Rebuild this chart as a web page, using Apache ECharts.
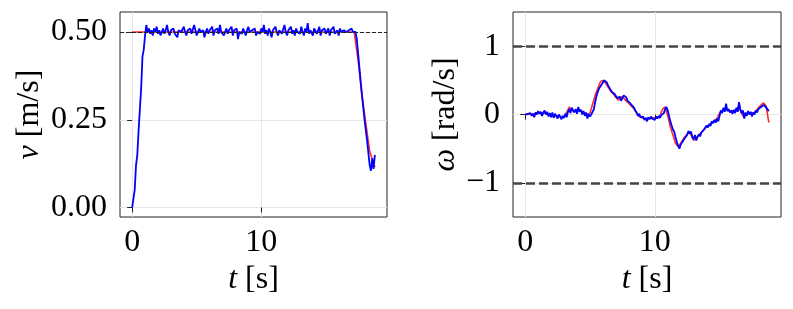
<!DOCTYPE html>
<html>
<head>
<meta charset="utf-8">
<script src="https://cdn.jsdelivr.net/npm/echarts@6/dist/echarts.min.js"></script>
<style>html,body{margin:0;padding:0;background:#fff}#c{width:793px;height:309px}</style>
</head>
<body>
<div id="c"></div>
<script>
// ---- data ----
const DT = 0.1; // sample period [s]
// left: measured linear velocity v [m/s], sampled every 0.1 s from t=0
const vMeasured = [
  0.0,0.0,0.05,0.12,0.15,0.22,0.28,0.34,0.43,0.45,0.49,0.52,
  0.50,0.51,0.495,0.505,0.49,0.51,0.50,0.515,0.495,0.505,
  0.49,0.50,0.51,0.495,0.505,0.52,0.50,0.49,0.505,0.50,
  0.51,0.495,0.50,0.485,0.505,0.51,0.50,0.495,0.515,0.50,
  0.49,0.505,0.50,0.51,0.495,0.50,0.52,0.505,0.49,0.50,
  0.51,0.50,0.495,0.505,0.485,0.50,0.51,0.495,0.505,0.50,
  0.515,0.49,0.505,0.50,0.51,0.495,0.52,0.50,0.505,0.49,
  0.50,0.51,0.495,0.505,0.50,0.515,0.49,0.505,0.50,0.51,
  0.48,0.50,0.505,0.495,0.51,0.50,0.49,0.505,0.515,0.50,
  0.495,0.505,0.50,0.51,0.49,0.50,0.505,0.495,0.51,0.50,
  0.52,0.495,0.505,0.49,0.51,0.50,0.485,0.505,0.50,0.515,
  0.50,0.49,0.505,0.51,0.495,0.50,0.52,0.50,0.49,0.505,
  0.50,0.515,0.495,0.505,0.49,0.51,0.50,0.505,0.495,0.515,
  0.50,0.49,0.51,0.50,0.525,0.495,0.505,0.50,0.49,0.51,
  0.505,0.495,0.50,0.515,0.49,0.505,0.50,0.51,0.495,0.50,
  0.51,0.49,0.505,0.50,0.515,0.495,0.50,0.505,0.49,0.51,
  0.50,0.495,0.505,0.51,0.50,0.495,0.505,0.50,0.51,0.50,
  0.505,0.50,
  0.48,0.44,0.40,0.36,0.32,0.285,0.25,0.22,0.19,0.155,0.12,0.105,0.14,0.11,0.15
];
// left: reference velocity (time, value)
const vRefT = [0.0, 17.2, 17.5, 17.8, 18.1, 18.4, 18.8];
const vRefV = [0.5, 0.5, 0.42, 0.32, 0.24, 0.16, 0.115];
const vLimit = 0.5;

// right: measured angular velocity w [rad/s], sampled every 0.1 s from t=0
const wMeasured = [
  0.0,0.0,0.01,-0.01,0.02,-0.02,0.01,-0.04,0.03,0.0,
  0.05,0.01,0.04,-0.02,0.03,0.06,0.0,0.04,-0.03,0.02,
  -0.04,0.03,-0.05,0.01,-0.02,-0.06,0.0,-0.03,-0.07,-0.02,
  -0.05,0.01,-0.04,0.04,0.08,0.02,0.10,0.06,0.03,0.08,
  0.01,0.11,0.04,0.07,0.0,0.05,-0.02,0.03,-0.06,0.01,
  -0.03,
  0.0,0.02,0.08,0.18,0.27,0.33,0.38,0.40,0.44,0.46,
  0.50,0.48,0.47,0.42,0.40,0.36,0.33,0.31,0.30,0.27,
  0.24,0.22,0.26,0.20,0.24,0.28,0.26,0.25,0.20,0.22,
  0.17,0.14,0.12,0.10,0.06,0.03,-0.02,0.01,-0.04,-0.06,
  -0.03,-0.08,-0.05,-0.10,-0.04,-0.07,-0.03,-0.06,-0.04,-0.08,
  -0.03,-0.06,-0.02,-0.05,-0.01,-0.03,0.02,0.08,0.11,0.06,
  -0.02,-0.10,-0.16,-0.22,-0.25,-0.33,-0.40,-0.46,-0.50,-0.44,
  -0.41,-0.38,-0.35,-0.33,-0.30,-0.24,-0.28,-0.25,-0.33,-0.36,
  -0.30,-0.38,-0.33,-0.29,-0.32,-0.26,-0.28,-0.22,-0.20,-0.16,
  -0.19,-0.14,-0.17,-0.10,-0.13,-0.08,-0.12,-0.06,-0.10,-0.02,
  0.06,0.02,0.10,0.04,0.16,0.05,0.08,0.03,0.06,0.01,
  0.07,0.02,0.10,0.04,0.18,0.08,0.02,0.06,-0.06,0.03,
  -0.02,0.05,0.0,0.04,-0.03,0.03,0.0,0.06,0.03,0.08,
  0.06,0.11,0.09,0.14,0.16,0.10,0.12,0.05
];
// right: reference angular velocity, sampled every 0.2 s from t=0
const REF_DT = 0.2;
const wRef = [
  0.0,0.0,0.01,0.0,0.02,0.03,0.02,0.02,0.02,0.0,
  -0.01,-0.02,-0.02,-0.03,-0.04,-0.03,0.03,0.11,0.06,0.05,
  0.06,0.07,0.04,0.02,0.0,0.02,0.15,0.28,0.38,0.48,
  0.50,0.46,0.40,0.34,0.30,0.25,0.21,0.26,0.24,0.20,
  0.16,0.12,0.08,0.02,-0.03,-0.05,-0.06,-0.06,-0.05,-0.05,
  -0.05,-0.04,-0.02,0.08,0.11,-0.02,-0.18,-0.30,-0.42,-0.47,
  -0.42,-0.36,-0.31,-0.26,-0.30,-0.38,-0.34,-0.30,-0.26,-0.22,
  -0.18,-0.15,-0.12,-0.09,-0.06,0.02,0.06,0.08,0.06,0.05,
  0.05,0.06,0.10,0.06,-0.02,-0.02,0.02,0.02,0.02,0.05,
  0.10,0.14,0.17,0.12,-0.12
];
const wLimits = [1, -1];

const xTicks = [0, 10];
const vTicks = [0, 0.25, 0.5];
const wTicks = [-1, 0, 1];

// ---- chart ----
const FONT = 'Liberation Serif';
const FS = 32;
const pairs = (arr, dt) => arr.map((v, i) => [+(i * dt).toFixed(2), v]);
const refPairs = vRefT.map((t, i) => [t, vRefV[i]]);

function nameStyle() {
  return { fontFamily: FONT, fontSize: FS, color: '#000',
    rich: { it: { fontFamily: FONT, fontSize: FS, fontStyle: 'italic', color: '#000' } } };
}

function xAxis(gi) {
  return {
    gridIndex: gi, type: 'value', min: -0.94, max: 19.74,
    name: '{it|t} [s]', nameLocation: 'middle', nameGap: 46,
    nameTextStyle: nameStyle(),
    axisLine: { show: false },
    axisTick: { show: true, inside: false, length: 5, customValues: xTicks, lineStyle: { color: '#222', width: 1 } },
    axisLabel: { customValues: xTicks, fontFamily: FONT, fontSize: FS, color: '#000', margin: 10 },
    splitLine: { show: true, lineStyle: { color: '#e6e6e6', width: 1 } }
  };
}

const option = {
  animation: false,
  backgroundColor: '#fff',
  grid: [
    { left: 120, top: 12, width: 267, height: 205, show: true, borderColor: '#222', borderWidth: 1, backgroundColor: 'transparent' },
    { left: 513, top: 12, width: 268, height: 205, show: true, borderColor: '#222', borderWidth: 1, backgroundColor: 'transparent' }
  ],
  xAxis: [xAxis(0), xAxis(1)],
  yAxis: [
    {
      gridIndex: 0, type: 'value', min: -0.027, max: 0.557,
      name: '{it|v} [m/s]', nameLocation: 'middle', nameGap: 74, nameRotate: 90,
      nameTextStyle: nameStyle(),
      axisLine: { show: false },
      axisTick: { show: true, length: 5, customValues: vTicks, lineStyle: { color: '#222', width: 1 } },
      axisLabel: { customValues: vTicks, fontFamily: FONT, fontSize: FS, color: '#000', margin: 13,
        formatter: v => v.toFixed(2) },
      splitLine: { show: true, lineStyle: { color: '#e6e6e6', width: 1 } }
    },
    {
      gridIndex: 1, type: 'value', min: -1.5, max: 1.5,
      name: '{it|ω} [rad/s]', nameLocation: 'middle', nameGap: 49, nameRotate: 90,
      nameTextStyle: nameStyle(),
      axisLine: { show: false },
      axisTick: { show: true, length: 5, customValues: wTicks, lineStyle: { color: '#222', width: 1 } },
      axisLabel: { customValues: wTicks, fontFamily: FONT, fontSize: FS, color: '#000', margin: 13,
        formatter: v => (v < 0 ? '\u2212' + Math.abs(v) : String(v)) },
      splitLine: { show: true, lineStyle: { color: '#e6e6e6', width: 1 } }
    }
  ],
  series: [
    { type: 'line', xAxisIndex: 0, yAxisIndex: 0, data: refPairs, showSymbol: false, z: 2,
      lineStyle: { color: '#ff2a2a', width: 1.6 } },
    { type: 'line', xAxisIndex: 0, yAxisIndex: 0, data: pairs(vMeasured, DT), showSymbol: false, z: 3,
      lineStyle: { color: '#0000ff', width: 1.8 } },
    { type: 'line', xAxisIndex: 0, yAxisIndex: 0, data: [], z: 4,
      markLine: { silent: true, symbol: 'none', label: { show: false },
        lineStyle: { color: '#222', width: 1.2, type: [4, 2] },
        data: [{ yAxis: vLimit }] } },
    { type: 'line', xAxisIndex: 1, yAxisIndex: 1, data: [], z: 1,
      markLine: { silent: true, symbol: 'none', label: { show: false },
        lineStyle: { color: '#444', width: 2.5, type: [9, 4] },
        data: wLimits.map(v => ({ yAxis: v })) } },
    { type: 'line', xAxisIndex: 1, yAxisIndex: 1, data: pairs(wRef, REF_DT), showSymbol: false, z: 2,
      lineStyle: { color: '#ff2a2a', width: 1.6 } },
    { type: 'line', xAxisIndex: 1, yAxisIndex: 1, data: pairs(wMeasured, DT), showSymbol: false, z: 3,
      lineStyle: { color: '#0000ff', width: 1.8 } }
  ]
};
const chart = echarts.init(document.getElementById('c'), null, { renderer: 'canvas' });
chart.setOption(option);
</script>
</body>
</html>
